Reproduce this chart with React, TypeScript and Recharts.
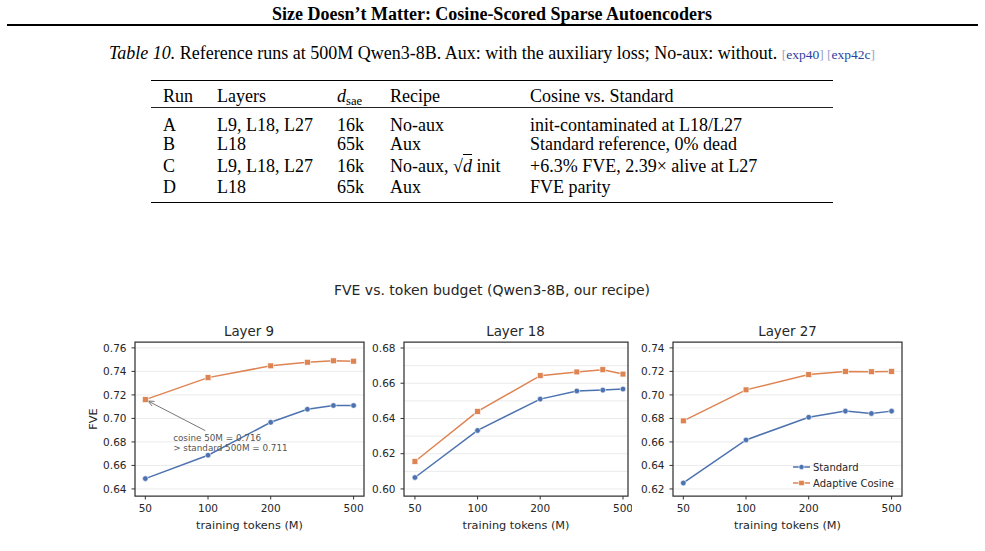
import React from 'react';
import {
  LineChart,
  Line,
  XAxis,
  YAxis,
  CartesianGrid,
  ReferenceArea,
  ReferenceLine,
  ReferenceDot,
} from 'recharts';

const SERIF = '"Liberation Serif", "Times New Roman", serif';
const SANS = '"DejaVu Sans", "Noto Sans", sans-serif';
const INK = '#333333';
const TEXT = '#262626';
const GRID = '#ebebeb';
const BLUE = '#4c72b0';
const ORANGE = '#dd8452';

// ---- data ---------------------------------------------------------------
// training token budgets (millions) at which every run was evaluated
const tokenBudgets = [50, 100, 200, 300, 400, 500];
const xTicks = [50, 100, 200, 500];

const seriesNames = ['Standard', 'Adaptive Cosine'];
const layerTitles = ['Layer 9', 'Layer 18', 'Layer 27'];

const standardL9 = [0.6488, 0.6687, 0.6967, 0.7078, 0.711, 0.711];
const cosineL9 = [0.716, 0.7347, 0.7447, 0.7478, 0.749, 0.7487];
const standardL18 = [0.6065, 0.6332, 0.651, 0.6556, 0.6561, 0.6567];
const cosineL18 = [0.6156, 0.644, 0.6643, 0.6664, 0.6677, 0.6652];
const standardL27 = [0.6251, 0.6617, 0.681, 0.6862, 0.6842, 0.6862];
const cosineL27 = [0.6779, 0.7043, 0.7173, 0.72, 0.7197, 0.72];

const yTicksL9 = [0.64, 0.66, 0.68, 0.7, 0.72, 0.74, 0.76];
const yTicksL18 = [0.6, 0.62, 0.64, 0.66, 0.68];
const gridL18 = [0.6, 0.61, 0.62, 0.63, 0.64, 0.65, 0.66, 0.67, 0.68];
const yTicksL27 = [0.62, 0.64, 0.66, 0.68, 0.7, 0.72, 0.74];

const annotationLines = ['cosine 50M = 0.716', '> standard 500M = 0.711'];

// table contents
const tableHeader = ['Run', 'Layers', 'dsae', 'Recipe', 'Cosine vs. Standard'];
const runIds = ['A', 'B', 'C', 'D'];
const runLayers = ['L9, L18, L27', 'L18', 'L9, L18, L27', 'L18'];
const runDims = ['16k', '65k', '16k', '65k'];
const runRecipes = ['No-aux', 'Aux', 'No-aux, √d init', 'Aux'];
const runOutcomes = [
  'init-contaminated at L18/L27',
  'Standard reference, 0% dead',
  '+6.3% FVE, 2.39× alive at L27',
  'FVE parity',
];

// ---- layout -------------------------------------------------------------
const PLOT_TOP = 342;
const PLOT_H = 154;
const Y_AXIS_W = 60;
const X_AXIS_H = 42;
const PAD = 4;

const panels = [
  {
    title: layerTitles[0],
    standard: standardL9,
    cosine: cosineL9,
    xDomain: [44.6, 561] as [number, number],
    yDomain: [0.634, 0.765] as [number, number],
    yTicks: yTicksL9,
    grid: yTicksL9,
    plotLeft: 134.5,
    plotWidth: 229,
    yLabel: true,
    annotate: true,
    legend: false,
  },
  {
    title: layerTitles[1],
    standard: standardL18,
    cosine: cosineL18,
    xDomain: [44.3, 528.5] as [number, number],
    yDomain: [0.596, 0.6834] as [number, number],
    yTicks: yTicksL18,
    grid: gridL18,
    plotLeft: 403.5,
    plotWidth: 224,
    yLabel: false,
    annotate: false,
    legend: false,
  },
  {
    title: layerTitles[2],
    standard: standardL27,
    cosine: cosineL27,
    xDomain: [44.6, 561] as [number, number],
    yDomain: [0.614, 0.745] as [number, number],
    yTicks: yTicksL27,
    grid: yTicksL27,
    plotLeft: 673,
    plotWidth: 229,
    yLabel: false,
    annotate: false,
    legend: true,
  },
];

// ---- marks --------------------------------------------------------------
const circleDot = (props: any) => {
  const { cx, cy, index } = props;
  if (cx == null || cy == null) return <g key={`c-${index}`} />;
  return <circle key={`c-${index}`} cx={cx} cy={cy} r={2.8} fill={BLUE} stroke="#fff" strokeWidth={0.6} />;
};

const squareDot = (props: any) => {
  const { cx, cy, index } = props;
  if (cx == null || cy == null) return <g key={`s-${index}`} />;
  return (
    <rect key={`s-${index}`} x={cx - 2.9} y={cy - 2.9} width={5.8} height={5.8} fill={ORANGE} stroke="#fff" strokeWidth={0.6} />
  );
};

const ArrowShape = (props: any) => {
  const { x1, y1, x2, y2 } = props;
  const dx = x2 - x1;
  const dy = y2 - y1;
  const len = Math.sqrt(dx * dx + dy * dy) || 1;
  const ux = dx / len;
  const uy = dy / len;
  const tipX = x2 - ux * 3;
  const tipY = y2 - uy * 3;
  const head = 6;
  const half = 2.6;
  const bx = tipX - ux * head;
  const by = tipY - uy * head;
  const px = -uy * half;
  const py = ux * half;
  return (
    <g>
      <line x1={x1} y1={y1} x2={tipX} y2={tipY} stroke="#666" strokeWidth={0.9} />
      <polyline
        points={`${bx + px},${by + py} ${tipX},${tipY} ${bx - px},${by - py}`}
        fill="none"
        stroke="#666"
        strokeWidth={0.9}
      />
    </g>
  );
};

const AnnotationText = (props: any) => {
  const { cx, cy } = props;
  return (
    <text x={cx} y={cy} fontFamily={SANS} fontSize={8.8} fill="#555">
      <tspan x={cx} y={cy - 2.2}>{annotationLines[0]}</tspan>
      <tspan x={cx} y={cy + 8.3}>{annotationLines[1]}</tspan>
    </text>
  );
};

function Panel({ cfg }: { cfg: (typeof panels)[number] }) {
  const data = tokenBudgets.map((t, i) => ({ tokens: t, standard: cfg.standard[i], cosine: cfg.cosine[i] }));
  const tickStyle = { fontSize: 10.5, fill: TEXT, fontFamily: SANS };
  return (
    <div style={{ position: 'absolute', left: cfg.plotLeft - Y_AXIS_W, top: PLOT_TOP - PAD }}>
      <LineChart
        width={Y_AXIS_W + cfg.plotWidth + PAD}
        height={PAD + PLOT_H + X_AXIS_H}
        data={data}
        margin={{ top: PAD, right: PAD, bottom: 0, left: 0 }}
      >
        <CartesianGrid vertical={false} horizontalValues={cfg.grid} stroke={GRID} strokeWidth={1} />
        <XAxis
          dataKey="tokens"
          type="number"
          scale="log"
          domain={cfg.xDomain}
          allowDataOverflow
          ticks={xTicks}
          interval={0}
          height={X_AXIS_H}
          axisLine={false}
          tickLine={{ stroke: INK, strokeWidth: 1 }}
          tickSize={3.5}
          tickMargin={5}
          tick={tickStyle}
          label={{
            value: 'training tokens (M)',
            position: 'insideBottom',
            offset: 9,
            fontSize: 11.3,
            fill: TEXT,
            fontFamily: SANS,
          }}
        />
        <YAxis
          type="number"
          domain={cfg.yDomain}
          allowDataOverflow
          ticks={cfg.yTicks}
          interval={0}
          width={Y_AXIS_W}
          axisLine={false}
          tickLine={{ stroke: INK, strokeWidth: 1 }}
          tickSize={3.5}
          tickMargin={5}
          tick={tickStyle}
          tickFormatter={(v: number) => v.toFixed(2)}
          label={
            cfg.yLabel
              ? {
                  value: 'FVE',
                  angle: -90,
                  position: 'insideLeft',
                  offset: 18,
                  fontSize: 11.3,
                  fill: TEXT,
                  fontFamily: SANS,
                  style: { textAnchor: 'middle' },
                }
              : undefined
          }
        />
        <Line
          dataKey="standard"
          name={seriesNames[0]}
          type="linear"
          stroke={BLUE}
          strokeWidth={1.5}
          dot={circleDot}
          activeDot={false}
          isAnimationActive={false}
        />
        <Line
          dataKey="cosine"
          name={seriesNames[1]}
          type="linear"
          stroke={ORANGE}
          strokeWidth={1.5}
          dot={squareDot}
          activeDot={false}
          isAnimationActive={false}
        />
        {cfg.annotate && (
          <ReferenceLine
            segment={[
              { x: 97, y: 0.6896 },
              { x: tokenBudgets[0], y: cfg.cosine[0] },
            ]}
            ifOverflow="visible"
            shape={ArrowShape}
          />
        )}
        {cfg.annotate && (
          <ReferenceDot x={68} y={0.679} r={0} ifOverflow="visible" shape={AnnotationText} />
        )}
        <ReferenceArea
          x1={cfg.xDomain[0]}
          x2={cfg.xDomain[1]}
          y1={cfg.yDomain[0]}
          y2={cfg.yDomain[1]}
          fill="none"
          fillOpacity={0}
          stroke={INK}
          strokeWidth={1.25}
          ifOverflow="visible"
        />
      </LineChart>
    </div>
  );
}

function LegendBox({ left, top }: { left: number; top: number }) {
  const entries = [
    { name: seriesNames[0], color: BLUE, kind: 'circle' },
    { name: seriesNames[1], color: ORANGE, kind: 'square' },
  ];
  return (
    <svg style={{ position: 'absolute', left, top }} width={120} height={36}>
      {entries.map((e, i) => {
        const y = 6 + i * 16;
        return (
          <g key={e.name}>
            <line x1={1} x2={18} y1={y} y2={y} stroke={e.color} strokeWidth={1.5} />
            {e.kind === 'circle' ? (
              <circle cx={9.5} cy={y} r={2.6} fill={e.color} stroke="#fff" strokeWidth={0.6} />
            ) : (
              <rect x={6.8} y={y - 2.7} width={5.4} height={5.4} fill={e.color} stroke="#fff" strokeWidth={0.6} />
            )}
            <text x={21} y={y + 3.6} fontFamily={SANS} fontSize={10} fill={TEXT}>
              {e.name}
            </text>
          </g>
        );
      })}
    </svg>
  );
}

// ---- page text helpers ----------------------------------------------------
function Txt({
  x,
  cy,
  size,
  children,
  align = 'left',
  style,
}: {
  x: number;
  cy: number;
  size: number;
  children: React.ReactNode;
  align?: 'left' | 'center';
  style?: React.CSSProperties;
}) {
  const lh = Math.round(size * 1.15);
  return (
    <div
      style={{
        position: 'absolute',
        left: align === 'center' ? x - 450 : x,
        width: align === 'center' ? 900 : undefined,
        textAlign: align,
        top: cy - lh / 2,
        lineHeight: `${lh}px`,
        fontSize: size,
        whiteSpace: 'nowrap',
        ...style,
      }}
    >
      {children}
    </div>
  );
}

function Rule({ x, y, w, h, color = '#000' }: { x: number; y: number; w: number; h: number; color?: string }) {
  return <div style={{ position: 'absolute', left: x, top: y, width: w, height: h, background: color }} />;
}

const Sqrt = () => (
  <span>
    <span style={{ fontSize: '1em' }}>√</span>
    <span style={{ fontStyle: 'italic', borderTop: '1px solid #000', paddingTop: 1, lineHeight: 1 }}>d</span>
  </span>
);

function RecipeCell({ text }: { text: string }) {
  if (text.includes('√d')) {
    const [before, after] = text.split('√d');
    return (
      <>
        {before}
        <Sqrt />
        {after}
      </>
    );
  }
  return <>{text}</>;
}

const TABLE_FONT = 18;
const colX = [163, 217, 337, 390, 530];
const rowCy = [125, 144, 166, 187];
const bracket = { color: '#9aa3c8' };

export default function App() {
  return (
    <div
      style={{
        position: 'absolute',
        left: 0,
        top: 0,
        width: 985,
        height: 551,
        background: '#fff',
        overflow: 'hidden',
        fontFamily: SERIF,
        color: '#000',
      }}
    >
      {/* running head */}
      <Txt x={492} cy={14} size={18} align="center" style={{ fontWeight: 700 }}>
        Size Doesn’t Matter: Cosine-Scored Sparse Autoencoders
      </Txt>
      <Rule x={7} y={24} w={971} h={2} />

      {/* table caption */}
      <Txt x={492} cy={53} size={18} align="center">
        <i>Table 10.</i> Reference runs at 500M Qwen3-8B. Aux: with the auxiliary loss; No-aux: without.{' '}
        <span style={{ fontSize: 13.5, color: '#2b3f9e' }}>
          <span style={bracket}>[</span>exp40<span style={bracket}>]</span>{' '}
          <span style={bracket}>[</span>exp42c<span style={bracket}>]</span>
        </span>
      </Txt>

      {/* table */}
      <Rule x={151} y={79.5} w={682} h={1.3} />
      {tableHeader.map((h, i) => (
        <Txt key={h} x={colX[i]} cy={96} size={TABLE_FONT}>
          {h === 'dsae' ? (
            <span>
              <i>d</i>
              <span style={{ fontSize: '0.7em', verticalAlign: '-0.25em' }}>sae</span>
            </span>
          ) : (
            h
          )}
        </Txt>
      ))}
      <Rule x={151} y={107} w={682} h={0.8} color="#222" />
      {runIds.map((id, r) => (
        <React.Fragment key={id}>
          <Txt x={colX[0]} cy={rowCy[r]} size={TABLE_FONT}>{id}</Txt>
          <Txt x={colX[1]} cy={rowCy[r]} size={TABLE_FONT}>{runLayers[r]}</Txt>
          <Txt x={colX[2]} cy={rowCy[r]} size={TABLE_FONT}>{runDims[r]}</Txt>
          <Txt x={colX[3]} cy={rowCy[r]} size={TABLE_FONT}>
            <RecipeCell text={runRecipes[r]} />
          </Txt>
          <Txt x={colX[4]} cy={rowCy[r]} size={TABLE_FONT}>{runOutcomes[r]}</Txt>
        </React.Fragment>
      ))}
      <Rule x={151} y={202} w={682} h={1.3} />

      {/* figure */}
      <Txt x={492} cy={290} size={14} align="center" style={{ fontFamily: SANS, color: TEXT }}>
        FVE vs. token budget (Qwen3-8B, our recipe)
      </Txt>
      {panels.map((p) => (
        <React.Fragment key={p.title}>
          <Txt x={p.plotLeft + p.plotWidth / 2} cy={331} size={13.4} align="center" style={{ fontFamily: SANS, color: TEXT }}>
            {p.title}
          </Txt>
          <Panel cfg={p} />
          {p.legend && <LegendBox left={792} top={461} />}
        </React.Fragment>
      ))}
    </div>
  );
}
